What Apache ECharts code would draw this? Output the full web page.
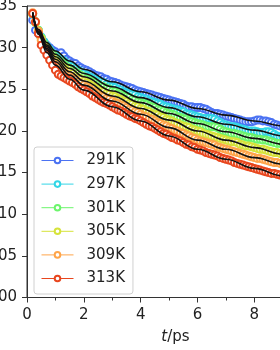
<!DOCTYPE html>
<html>
<head>
<meta charset="utf-8">
<script src="https://cdn.jsdelivr.net/npm/echarts@6/dist/echarts.min.js"></script>
<style>
  html, body { margin: 0; padding: 0; background: #fff; }
  #chart { width: 280px; height: 350px; }
</style>
</head>
<body>
<div id="chart"></div>
<script>
// sample times (ps)
var times = [0.2,0.3,0.4,0.5,0.6,0.7,0.8,0.9,1.0,
  1.1,1.2,1.3,1.4,1.5,1.6,1.7,1.8,1.9,2.0,
  2.1,2.2,2.3,2.4,2.5,2.6,2.7,2.8,2.9,3.0,
  3.1,3.2,3.3,3.4,3.5,3.6,3.7,3.8,3.9,4.0,
  4.1,4.2,4.3,4.4,4.5,4.6,4.7,4.8,4.9,5.0,
  5.1,5.2,5.3,5.4,5.5,5.6,5.7,5.8,5.9,6.0,
  6.1,6.2,6.3,6.4,6.5,6.6,6.7,6.8,6.9,7.0,
  7.1,7.2,7.3,7.4,7.5,7.6,7.7,7.8,7.9,8.0,
  8.1,8.2,8.3,8.4,8.5,8.6,8.7,8.8,8.9,9.0,
  9.1,9.2,9.3,9.4,9.5,9.6,9.7,9.8,9.9,10.0];

var names = ['291K', '297K', '301K', '305K', '309K', '313K'];
var colors = ['#4b72f2', '#33d6e6', '#6cf56c', '#d6e33a', '#ffa54a', '#e8461e'];

var k291 = [.333,.321,.317,.312,.307,.303,.300,.297,.295,
  .293,.294,.290,.286,.284,.282,.281,.278,.276,.274,
  .273,.271,.269,.267,.266,.265,.263,.262,.260,.259,
  .258,.257,.255,.254,.253,.252,.251,.249,.248,.247,
  .246,.245,.244,.243,.242,.241,.240,.239,.238,.237,
  .236,.235,.234,.233,.232,.230,.229,.229,.228,.228,
  .228,.227,.226,.224,.222,.221,.221,.220,.219,.218,
  .217,.216,.215,.214,.213,.212,.211,.211,.211,.212,
  .213,.213,.212,.212,.211,.210,.208,.207,.206,.206,
  .205,.205,.204,.203,.203,.202,.201,.201,.200,.200];
var k297 = [.340,.330,.321,.313,.307,.302,.298,.294,.291,
  .288,.286,.284,.281,.279,.277,.275,.273,.271,.269,
  .267,.265,.263,.262,.260,.259,.258,.256,.254,.253,
  .252,.250,.249,.247,.246,.245,.244,.243,.241,.240,
  .239,.238,.236,.235,.234,.233,.232,.230,.229,.228,
  .227,.226,.225,.224,.223,.221,.220,.219,.218,.217,
  .216,.215,.215,.215,.215,.214,.212,.210,.208,.207,
  .206,.205,.205,.204,.203,.202,.201,.200,.200,.200,
  .199,.198,.198,.199,.199,.198,.196,.194,.193,.193,
  .192,.192,.191,.191,.190,.190,.189,.188,.188,.187];
var k301 = [.341,.331,.321,.312,.305,.300,.296,.292,.288,
  .285,.283,.280,.277,.275,.273,.271,.269,.267,.265,
  .263,.261,.259,.258,.256,.254,.253,.251,.250,.248,
  .247,.245,.244,.242,.241,.240,.238,.237,.235,.234,
  .233,.232,.230,.229,.228,.226,.225,.224,.222,.221,
  .220,.219,.217,.216,.215,.214,.212,.211,.210,.209,
  .208,.207,.206,.205,.205,.205,.204,.202,.200,.199,
  .198,.197,.197,.196,.195,.194,.193,.192,.192,.191,
  .190,.190,.189,.189,.188,.187,.186,.185,.185,.184,
  .183,.182,.182,.181,.180,.179,.179,.178,.177,.177];
var k305 = [.341,.330,.320,.311,.303,.297,.292,.288,.284,
  .281,.278,.276,.273,.271,.269,.266,.264,.262,.260,
  .258,.256,.254,.252,.250,.248,.247,.245,.244,.242,
  .241,.239,.238,.236,.235,.233,.232,.230,.229,.227,
  .226,.224,.223,.221,.220,.219,.217,.216,.214,.213,
  .212,.210,.209,.207,.206,.205,.204,.202,.201,.200,
  .199,.197,.196,.195,.194,.193,.192,.191,.190,.189,
  .188,.187,.187,.186,.184,.183,.182,.182,.181,.180,
  .179,.178,.178,.177,.176,.175,.174,.174,.173,.172,
  .171,.170,.170,.169,.168,.167,.167,.166,.165,.165];
var k309 = [.342,.331,.320,.309,.300,.293,.286,.283,.279,
  .276,.273,.271,.268,.266,.264,.262,.259,.257,.255,
  .253,.251,.248,.246,.244,.242,.241,.239,.238,.236,
  .234,.233,.231,.230,.228,.226,.225,.223,.222,.220,
  .218,.217,.215,.214,.212,.210,.209,.207,.206,.204,
  .203,.201,.200,.198,.197,.195,.194,.192,.191,.189,
  .188,.187,.186,.185,.184,.183,.181,.180,.179,.178,
  .177,.176,.175,.174,.173,.172,.171,.170,.169,.168,
  .167,.167,.166,.165,.164,.163,.162,.162,.161,.160,
  .159,.158,.157,.156,.155,.154,.153,.153,.152,.151];
var k313 = [.341,.331,.317,.303,.297,.291,.285,.279,.273,
  .268,.266,.264,.262,.260,.258,.256,.253,.251,.249,
  .247,.245,.242,.240,.238,.236,.234,.233,.231,.229,
  .227,.225,.224,.222,.220,.218,.217,.215,.214,.212,
  .210,.208,.206,.205,.203,.201,.199,.197,.196,.194,
  .192,.191,.189,.188,.186,.184,.183,.181,.180,.178,
  .177,.176,.174,.173,.172,.171,.170,.168,.167,.166,
  .165,.164,.162,.161,.160,.159,.158,.157,.156,.155,
  .154,.153,.152,.151,.150,.149,.149,.148,.147,.146,
  .145,.144,.143,.142,.141,.140,.140,.139,.138,.137];

// fitted curves (black lines)
var fitT = [0.2, 0.4, 0.7, 1, 1.5, 2, 3, 4, 5, 6, 7, 8, 9, 10];
var fit291 = [0.342, 0.322, 0.306, 0.296, 0.284, 0.274, 0.259, 0.247, 0.237, 0.227, 0.219, 0.212, 0.206, 0.200];
var fit297 = [0.342, 0.320, 0.303, 0.292, 0.279, 0.269, 0.253, 0.240, 0.228, 0.217, 0.208, 0.201, 0.194, 0.187];
var fit301 = [0.342, 0.319, 0.301, 0.289, 0.275, 0.265, 0.248, 0.234, 0.221, 0.209, 0.199, 0.191, 0.184, 0.177];
var fit305 = [0.342, 0.318, 0.299, 0.286, 0.271, 0.260, 0.242, 0.227, 0.213, 0.200, 0.189, 0.180, 0.172, 0.165];
var fit309 = [0.342, 0.317, 0.297, 0.283, 0.267, 0.255, 0.236, 0.220, 0.204, 0.189, 0.178, 0.168, 0.160, 0.151];
var fit313 = [0.342, 0.316, 0.294, 0.279, 0.262, 0.249, 0.229, 0.212, 0.194, 0.178, 0.166, 0.155, 0.146, 0.137];

var yTicks = [0, 0.05, 0.10, 0.15, 0.20, 0.25, 0.30, 0.35];

var dataSets = [k291, k297, k301, k305, k309, k313];
var fitSets = [fit291, fit297, fit301, fit305, fit309, fit313];

function pairs(xs, ys) {
  return ys.map(function (v, i) { return [xs[i], v]; });
}

var font = 'DejaVu Sans';
var series = [];
dataSets.forEach(function (d, i) {
  series.push({
    name: names[i],
    type: 'line',
    data: pairs(times, d),
    symbol: 'emptyCircle',
    symbolSize: 7,
    showAllSymbol: true,
    lineStyle: { color: colors[i], width: 1 },
    itemStyle: { color: colors[i], borderColor: colors[i], borderWidth: 1.2 },
    z: 2
  });
});
fitSets.forEach(function (d) {
  series.push({
    type: 'line',
    data: pairs(fitT, d),
    showSymbol: false,
    smooth: 0.4,
    smoothMonotone: 'x',
    lineStyle: { color: '#111', width: 1.6 },
    z: 3,
    silent: true
  });
});

var option = {
  animation: false,
  backgroundColor: '#fff',
  grid: { left: 27, top: 6, right: -44, bottom: 52.5, containLabel: false, outerBoundsMode: 'none',
    show: true, borderColor: '#333', borderWidth: 1 },
  legend: {
    data: names,
    orient: 'vertical',
    left: 34, top: 147,
    padding: [6, 8, 8, 7],
    itemWidth: 32, itemHeight: 7, itemGap: 8.6,
    itemStyle: { borderWidth: 1 },
    lineStyle: { width: 1 },
    borderColor: '#d0d0d0', borderWidth: 1, borderRadius: 3,
    backgroundColor: 'rgba(255,255,255,0.8)',
    textStyle: { fontFamily: font, fontSize: 15, color: '#222', padding: [0, 0, 0, 8] }
  },
  xAxis: {
    type: 'value', min: 0, max: 10.45, interval: 2,
    name: '{i|t}/ps', nameLocation: 'middle', nameGap: 32,
    nameTextStyle: { fontFamily: font, fontSize: 15, color: '#222',
      rich: { i: { fontFamily: font, fontSize: 15, fontStyle: 'italic', color: '#222' } } },
    axisLine: { onZero: false, lineStyle: { color: '#333', width: 1 } },
    axisTick: { show: true, length: 5, inside: false, lineStyle: { color: '#333' } },
    minorTick: { show: true, splitNumber: 2, length: 3, lineStyle: { color: '#333' } },
    axisLabel: { fontFamily: font, fontSize: 15, color: '#222', margin: 10 },
    splitLine: { show: false }
  },
  yAxis: {
    type: 'value', min: yTicks[0], max: yTicks[yTicks.length - 1], interval: 0.05,
    axisLine: { show: true, lineStyle: { color: '#333', width: 1 } },
    axisTick: { show: true, length: 5, lineStyle: { color: '#333' } },
    axisLabel: { fontFamily: font, fontSize: 15, color: '#222', margin: 10,
      formatter: function (v) { return v.toFixed(2); } },
    splitLine: { show: false }
  },
  series: series
};

var myChart = echarts.init(document.getElementById('chart'));
myChart.setOption(option);
</script>
</body>
</html>
